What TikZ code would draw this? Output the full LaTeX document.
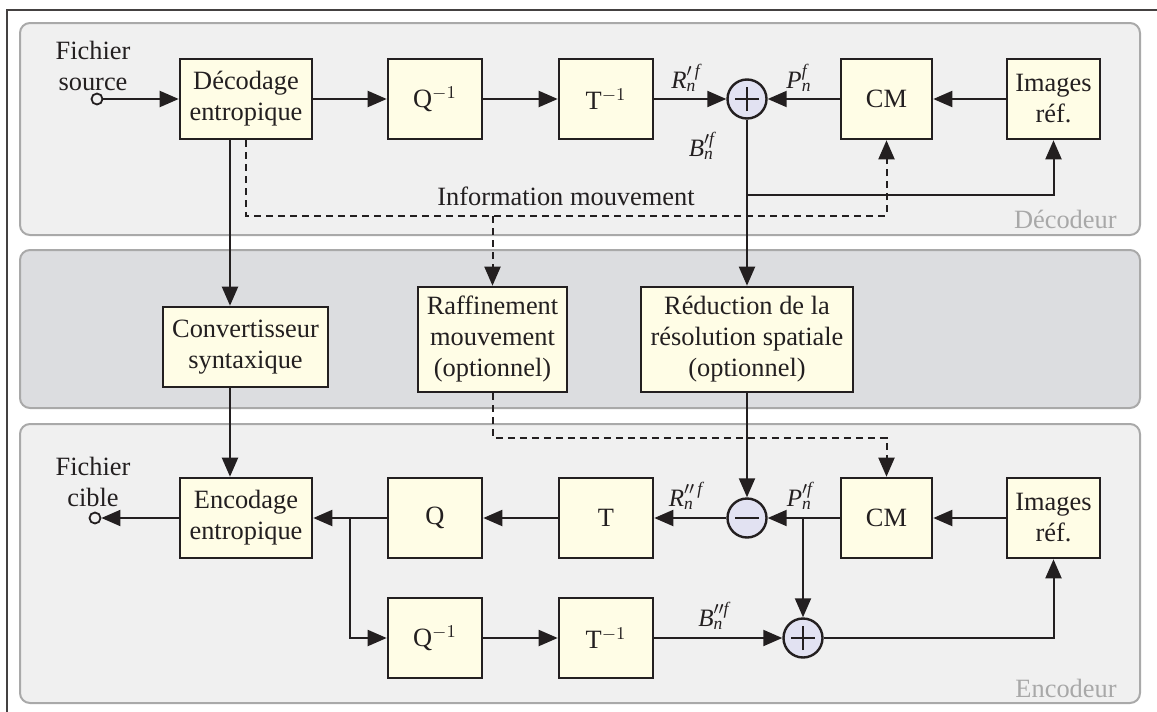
\documentclass[tikz,border=0pt]{standalone}
\usepackage{fontspec}
\setmainfont{Liberation Serif}
\usetikzlibrary{arrows.meta}
\definecolor{boxfill}{HTML}{FFFDE6}
\definecolor{panelfill}{HTML}{F0F0F0}
\definecolor{bandfill}{HTML}{DCDDE0}
\definecolor{panelline}{HTML}{A9A9A9}
\definecolor{sumfill}{HTML}{E2E2F2}
\definecolor{ink}{HTML}{231F20}
\definecolor{tagtext}{HTML}{A8A8A8}
\begin{document}
\begin{tikzpicture}[x=0.5pt,y=-0.5pt,
  font=\fontsize{13.2}{15.5}\selectfont,
  every node/.style={text=ink},
  blk/.style={draw=ink, line width=1.3pt, fill=boxfill, inner sep=0pt, align=center},
  sq/.style={blk, minimum width=47pt, minimum height=40pt},
  sumnode/.style={circle, draw=ink, line width=1.2pt, fill=sumfill, minimum size=19.5pt, inner sep=0pt},
  port/.style={circle, draw=ink, line width=0.9pt, fill=panelfill, minimum size=5.5pt, inner sep=0pt},
  panel/.style={draw=panelline, line width=1pt, fill=panelfill, rounded corners=5pt},
  band/.style={draw=panelline, line width=1pt, fill=bandfill, rounded corners=5pt},
  tag/.style={text=tagtext, anchor=base east, inner sep=0pt},
  lbl/.style={inner sep=0pt, font=\fontsize{12.5}{14}\selectfont},
  arr/.style={draw=ink, line width=1pt, -{Triangle[length=9.5pt,width=8pt]}},
  dsh/.style={draw=ink, line width=1pt, dash pattern=on 3.5pt off 2.5pt},
  darr/.style={dsh, -{Triangle[length=9.5pt,width=8pt]}},
  sign/.style={draw=ink, line width=0.7pt}
]
\useasboundingbox (0,0) rectangle (1157,712);

% outer frame and the three bands
\draw[draw=ink!85, line width=0.8pt] (7,712) -- (7,10) -- (1157,10);
\draw[panel] (20,23) rectangle (1140,235);
\draw[band] (20,250) rectangle (1140,408);
\draw[panel] (20,424) rectangle (1140,703);
\node[tag] (tagdec) at (1117,228) {Décodeur};
\node[tag] (tagenc) at (1117,697) {Encodeur};

% ---- decoder ----
\node[port] (src) at (97,99) {};
\node[align=center, inner sep=0pt] (srclab) at (93,66) {Fichier\\source};
\node[blk, minimum width=66pt, minimum height=40pt] (dec) at (246,99) {Décodage\\entropique};
\node[sq] (qi1) at (435,99) {Q$^{-1}$};
\node[sq] (ti1) at (606,99) {T$^{-1}$};
\node[sumnode] (s1) at (747,99) {};
\node[blk, minimum width=45.5pt, minimum height=40pt] (cm1) at (886.5,99) {CM};
\node[blk, minimum width=46.5pt, minimum height=40pt] (ref1) at (1053.5,99) {Images\\réf.};

\node[lbl] (lr1) at (686,78) {$\mathit{R}^{\prime\,\mathit{f}}_{\mathit{n}}$};
\node[lbl] (lp1) at (799,78) {$\mathit{P}^{\mathit{f}}_{\mathit{n}}$};
\node[lbl] (lb1) at (702,146) {$\mathit{B}^{\prime\mathit{f}}_{\mathit{n}}$};
\node[anchor=base, inner sep=0pt] (info) at (566,205) {Information mouvement};

% ---- middle band ----
\node[blk, minimum width=82.5pt, minimum height=40pt] (conv) at (245.5,347) {Convertisseur\\syntaxique};
\node[blk, minimum width=74.5pt, minimum height=52.5pt] (raff) at (492.5,339.5) {Raffinement\\mouvement\\(optionnel)};
\node[blk, minimum width=106pt, minimum height=52.5pt] (red) at (747,339.5) {Réduction de la\\résolution spatiale\\(optionnel)};

% ---- encoder ----
\node[port] (tgt) at (95,518) {};
\node[align=center, inner sep=0pt] (tgtlab) at (93,482) {Fichier\\cible};
\node[blk, minimum width=66pt, minimum height=40pt] (enc) at (246,518) {Encodage\\entropique};
\node[sq] (q) at (435,518) {Q};
\node[sq] (t) at (606,518) {T};
\node[sumnode] (m2) at (747,518) {};
\node[blk, minimum width=45.5pt, minimum height=40pt] (cm2) at (886.5,518) {CM};
\node[blk, minimum width=46.5pt, minimum height=40pt] (ref2) at (1053.5,518) {Images\\réf.};
\node[sq] (qi2) at (435,638) {Q$^{-1}$};
\node[sq] (ti2) at (606,638) {T$^{-1}$};
\node[sumnode] (p2) at (803,638) {};

\node[lbl] (lr2) at (686,496) {$\mathit{R}^{\prime\prime\,\mathit{f}}_{\mathit{n}}$};
\node[lbl] (lp2) at (800,496) {$\mathit{P}^{\prime\mathit{f}}_{\mathit{n}}$};
\node[lbl] (lb2) at (714,616) {$\mathit{B}^{\prime\prime\mathit{f}}_{\mathit{n}}$};

% plus / minus signs
\draw[sign] ([xshift=-6pt]s1.center) -- ([xshift=6pt]s1.center);
\draw[sign] ([yshift=-6pt]s1.center) -- ([yshift=6pt]s1.center);
\draw[sign] ([xshift=-6pt]m2.center) -- ([xshift=6pt]m2.center);
\draw[sign] ([xshift=-6pt]p2.center) -- ([xshift=6pt]p2.center);
\draw[sign] ([yshift=-6pt]p2.center) -- ([yshift=6pt]p2.center);

% ---- decoder connectors ----
\draw[arr] (src) -- (dec);
\draw[arr] (dec) -- (qi1);
\draw[arr] (qi1) -- (ti1);
\draw[arr] (ti1) -- (s1);
\draw[arr] (cm1) -- (s1);
\draw[arr] (ref1) -- (cm1);
\draw[arr] (s1) -- (red);
\coordinate (j1) at (747,195);
\draw[arr] (j1) -| (ref1);

% motion information (dashed)
\coordinate (dm) at (246,216);
\coordinate (dr) at (492.5,216);
\draw[darr] (dec.south) -- (dm) -| (cm1);
\draw[darr] (dr) -- (raff);

% syntax path
\draw[arr] ([xshift=-8pt]dec.south) -- ([xshift=-8pt]dec.south |- conv.north);
\draw[arr] ([xshift=-7.75pt]conv.south) -- ([xshift=-7.75pt]conv.south |- enc.north);

% ---- encoder connectors ----
\draw[arr] (red) -- (m2);
\coordinate (de) at (492.5,438);
\draw[darr] (raff.south) -- (de) -| (cm2);
\draw[arr] (ref2) -- (cm2);
\draw[arr] (cm2) -- (m2);
\draw[arr] (m2) -- (t);
\draw[arr] (t) -- (q);
\draw[arr] (q) -- (enc);
\draw[arr] (enc) -- (tgt);
\coordinate (jq) at (350,518);
\draw[arr] (jq) |- (qi2);
\draw[arr] (qi2) -- (ti2);
\draw[arr] (ti2) -- (p2);
\coordinate (jp) at (803,518);
\draw[arr] (jp) -- (p2);
\draw[arr] (p2) -| (ref2);
\end{tikzpicture}
\end{document}
